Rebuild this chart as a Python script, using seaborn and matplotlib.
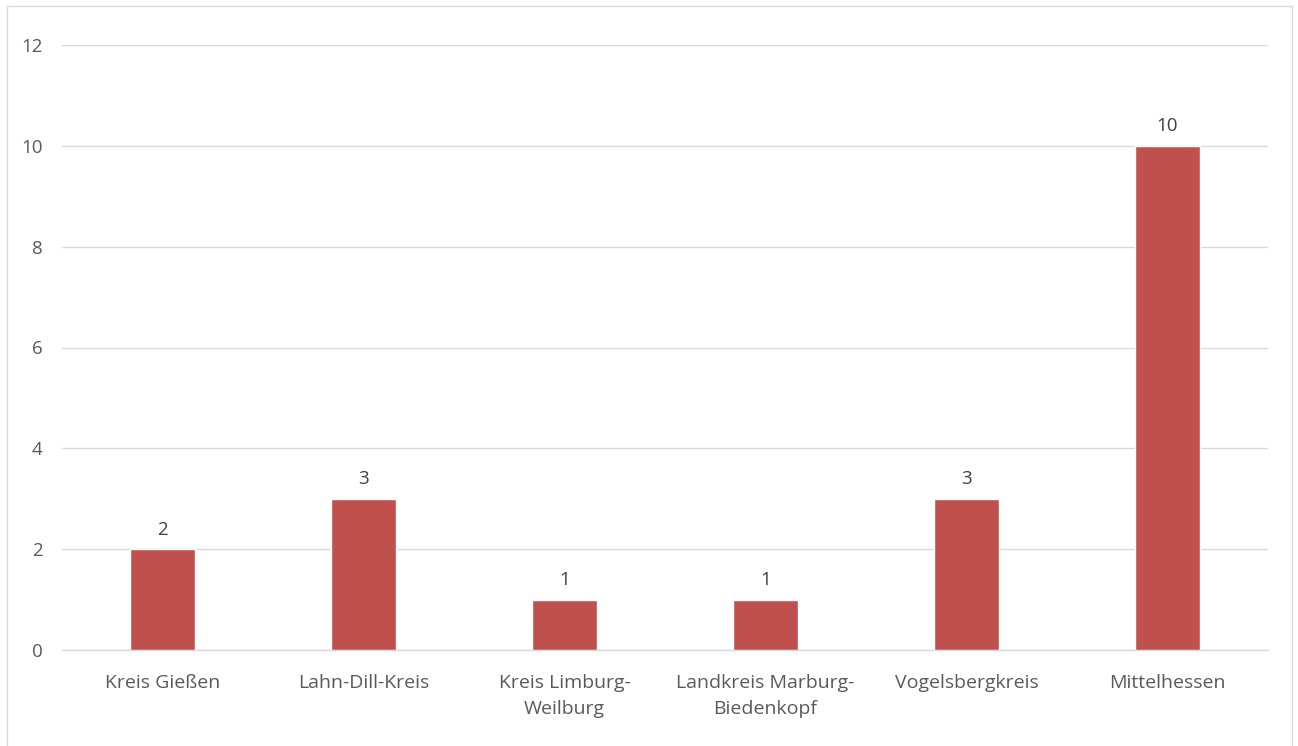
import matplotlib
matplotlib.use("Agg")
import matplotlib.pyplot as plt
import seaborn as sns
import pandas as pd
from matplotlib.patches import Rectangle

categories = ["Kreis Gießen", "Lahn-Dill-Kreis", "Kreis Limburg-\nWeilburg",
              "Landkreis Marburg-\nBiedenkopf", "Vogelsbergkreis", "Mittelhessen"]
values = [2, 3, 1, 1, 3, 10]
y_ticks = [0, 2, 4, 6, 8, 10, 12]

sns.set_theme(style="white")
plt.rcParams['font.family'] = ['Open Sans', 'DejaVu Sans']

W, H = 1298, 746
fig = plt.figure(figsize=(W / 100, H / 100), dpi=100)
ax = fig.add_axes([62 / W, (H - 650) / H, (1268 - 62) / W, (650 - 45) / H])

df = pd.DataFrame({"cat": categories, "val": values})
sns.barplot(data=df, x="cat", y="val", color="#C0504D", saturation=1,
            width=0.32, ax=ax, zorder=3)

ax.set_xlim(-0.5, len(categories) - 0.5)
ax.set_ylim(0, 12)
ax.set_yticks(y_ticks)
ax.set_yticklabels([str(t) for t in y_ticks])
ax.grid(axis="y", color="#D9D9D9", linewidth=1, zorder=0)
ax.set_axisbelow(True)
for s in ax.spines.values():
    s.set_visible(False)
ax.spines["bottom"].set_visible(True)
ax.spines["bottom"].set_color("#D9D9D9")
ax.spines["bottom"].set_linewidth(1)
ax.set_xlabel("")
ax.set_ylabel("")
ax.tick_params(axis="both", length=0, labelcolor="#595959")
ax.tick_params(axis="y", pad=14, labelsize=13.5)
ax.tick_params(axis="x", pad=17, labelsize=14)
for lbl in ax.get_xticklabels():
    lbl.set_linespacing(1.6)

for c in ax.containers:
    ax.bar_label(c, labels=[str(v) for v in values], padding=7.5,
                 fontsize=13.5, color="#404040")

fig.patches.append(Rectangle((7 / W, -0.02), (1292 - 7) / W, (H - 6) / H + 0.02,
                             transform=fig.transFigure, fill=False,
                             edgecolor="#D9D9D9", linewidth=1, clip_on=False))

fig.savefig("out.png", dpi=100)
